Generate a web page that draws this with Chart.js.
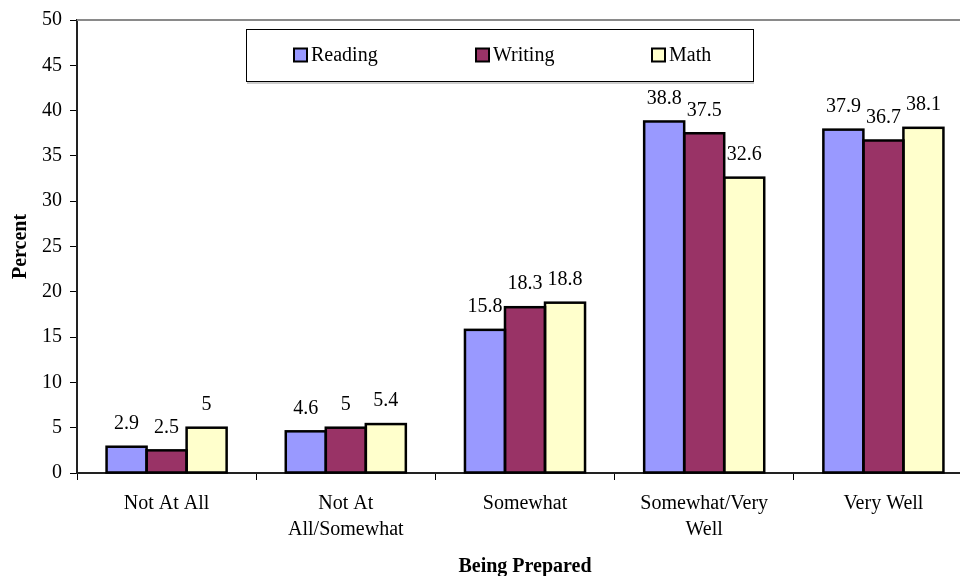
<!DOCTYPE html>
<html>
<head>
<meta charset="utf-8">
<script src="https://cdn.jsdelivr.net/npm/chart.js@4"></script>
<style>
  html, body { margin: 0; padding: 0; background: #fff; overflow: hidden; }
  #wrap { position: relative; width: 980px; height: 576px; }
</style>
</head>
<body>
<div id="wrap"><canvas id="chart"></canvas></div>
<script>
// categories and series
const categories = [
  'Not At All',
  ['Not At', 'All/Somewhat'],
  'Somewhat',
  ['Somewhat/Very', 'Well'],
  'Very Well'
];
const reading = [2.9, 4.6, 15.8, 38.8, 37.9];
const writing = [2.5, 5, 18.3, 37.5, 36.7];
const math = [5, 5.4, 18.8, 32.6, 38.1];
const seriesNames = ['Reading', 'Writing', 'Math'];
const seriesColors = ['#9999FF', '#993366', '#FFFFCC'];

const FONT = "'Liberation Serif', 'Times New Roman', serif";

// black outlines centred on the bar edges, so neighbours share one line
const barOutlines = {
  id: 'barOutlines',
  afterDatasetsDraw(chart) {
    const ctx = chart.ctx;
    ctx.save();
    ctx.strokeStyle = '#000';
    ctx.lineWidth = 2.5;
    chart.data.datasets.forEach((ds, i) => {
      chart.getDatasetMeta(i).data.forEach(bar => {
        const w = bar.width;
        ctx.strokeRect(bar.x - w / 2, bar.y, w, bar.base - bar.y);
      });
    });
    ctx.restore();
  }
};

// value labels above each bar
const valueLabels = {
  id: 'valueLabels',
  afterDatasetsDraw(chart) {
    const ctx = chart.ctx;
    ctx.save();
    ctx.font = '20px ' + FONT;
    ctx.fillStyle = '#000';
    ctx.textAlign = 'center';
    ctx.textBaseline = 'middle';
    chart.data.datasets.forEach((ds, i) => {
      chart.getDatasetMeta(i).data.forEach((bar, j) => {
        ctx.fillText(String(ds.data[j]), bar.x, bar.y - 23);
      });
    });
    ctx.restore();
  }
};

// boxed legend plus the grey frame line along the top of the plot
const boxLegend = {
  id: 'boxLegend',
  afterDraw(chart) {
    const ctx = chart.ctx;
    const area = chart.chartArea;
    ctx.save();
    ctx.strokeStyle = '#8a8a8a';
    ctx.lineWidth = 2;
    ctx.beginPath();
    ctx.moveTo(area.left, area.top);
    ctx.lineTo(area.right, area.top);
    ctx.stroke();

    const bx = 246, by = 29, bw = 507, bh = 52;
    ctx.fillStyle = '#fff';
    ctx.fillRect(bx, by, bw, bh);
    ctx.strokeStyle = '#000';
    ctx.lineWidth = 1;
    ctx.strokeRect(bx + 0.5, by + 0.5, bw, bh);
    ctx.strokeStyle = '#999';
    ctx.beginPath();
    ctx.moveTo(bx + 1, by + bh + 2);
    ctx.lineTo(bx + bw + 1, by + bh + 2);
    ctx.stroke();

    const markerX = [294, 476, 652];
    const cy = 55;
    ctx.font = '20px ' + FONT;
    ctx.textBaseline = 'middle';
    ctx.textAlign = 'left';
    chart.data.datasets.forEach((ds, i) => {
      const x = markerX[i];
      ctx.fillStyle = ds.backgroundColor;
      ctx.fillRect(x, cy - 6.5, 13, 13);
      ctx.strokeStyle = '#000';
      ctx.lineWidth = 2;
      ctx.strokeRect(x, cy - 6.5, 13, 13);
      ctx.fillStyle = '#000';
      ctx.fillText(ds.label, x + 17, cy + 1);
    });
    ctx.restore();
  }
};

new Chart(document.getElementById('chart'), {
  type: 'bar',
  data: {
    labels: categories,
    datasets: [reading, writing, math].map((values, i) => ({
      label: seriesNames[i],
      data: values,
      backgroundColor: seriesColors[i],
      borderWidth: 0,
      barPercentage: 1,
      categoryPercentage: 0.67
    }))
  },
  options: {
    responsive: true,
    maintainAspectRatio: false,
    animation: false,
    layout: { padding: { top: 18, right: 7, left: 0, bottom: 0 } },
    plugins: {
      legend: { display: false },
      tooltip: { enabled: false }
    },
    scales: {
      x: {
        grid: {
          offset: true,
          drawOnChartArea: false,
          drawTicks: true,
          tickLength: 7,
          color: '#000',
          lineWidth: 1
        },
        border: { display: true, color: '#222', width: 2 },
        ticks: {
          color: '#000',
          font: { family: FONT, size: 20, lineHeight: 1.3 },
          padding: 11,
          maxRotation: 0,
          autoSkip: false
        },
        title: {
          display: true,
          text: 'Being Prepared',
          color: '#000',
          font: { family: FONT, size: 20, weight: 'bold' },
          padding: { top: 0, bottom: -3 }
        },
        afterFit(scale) { scale.height = 103; }
      },
      y: {
        min: 0,
        max: 50,
        ticks: {
          stepSize: 5,
          color: '#000',
          font: { family: FONT, size: 20 },
          padding: 8
        },
        grid: {
          drawOnChartArea: false,
          drawTicks: true,
          tickLength: 7,
          color: '#000'
        },
        border: { display: true, color: '#222', width: 2 },
        title: {
          display: true,
          text: 'Percent',
          color: '#000',
          font: { family: FONT, size: 20, weight: 'bold' },
          padding: { top: 9, bottom: 0 }
        },
        afterFit(scale) { scale.width = 77; }
      }
    }
  },
  plugins: [barOutlines, valueLabels, boxLegend]
});
</script>
</body>
</html>
